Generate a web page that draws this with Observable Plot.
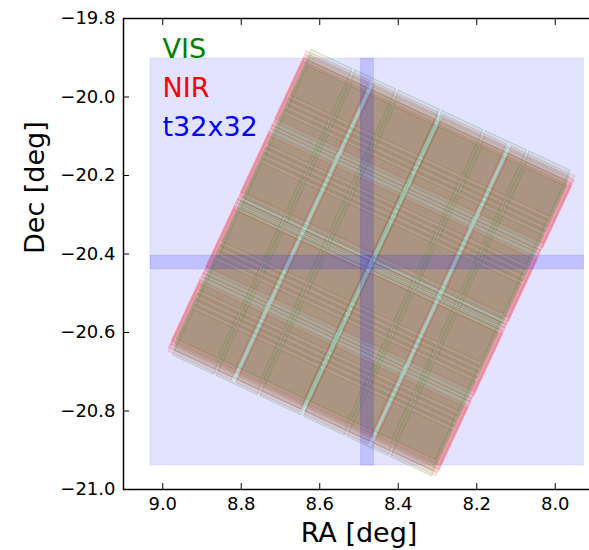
<!DOCTYPE html>
<html><head><meta charset="utf-8">
<script src="https://cdn.jsdelivr.net/npm/d3@7"></script>
<script src="https://cdn.jsdelivr.net/npm/@observablehq/plot@0.6"></script>
<style>
html,body{margin:0;padding:0;background:#fff;overflow:hidden;width:589px;height:550px}
#chart svg{display:block;max-width:none !important}
</style>
</head><body><div id="chart"></div>
<script>
// axes
const raDomain = [9.1, 7.9];
const decDomain = [-21.0, -19.8];
const xTicks = [9.0, 8.8, 8.6, 8.4, 8.2, 8.0];
const yTicks = [-21.0, -20.8, -20.6, -20.4, -20.2, -20.0, -19.8];
const xLabel = "RA [deg]";
const yLabel = "Dec [deg]";
// legend
const legendLabels = ["VIS", "NIR", "t32x32"];
const legendColors = ["green", "red", "blue"];
// t32x32 tile and its cross stripes
const tileRA = [9.031, 7.927];
const tileDec = [-20.939, -19.902];
const stripeRA = [8.495, 8.462];
const stripeDec = [-20.439, -20.404];
// footprint layout (focal-plane u,v in deg) and pointing
const footprintOrigin = [8.6216, -19.879];
const footprintAngle = 25;
const visColU = [0, 0.1225, 0.245, 0.3675, 0.49, 0.6125];
const visRowV = [0, 0.137, 0.274, 0.411, 0.548, 0.685];
const visSize = [0.115, 0.128];
const visDither = [[0, 0], [0.003, 0.014], [0.006, 0.028], [0.009, 0.042]];
const nirColU = [-0.01, 0.182, 0.374, 0.566];
const nirRowV = [0.008, 0.216, 0.424, 0.632];
const nirSize = [0.178, 0.19];
const nirDither = [[0, 0], [0.004, 0.01], [0.001, 0.02], [0.003, 0.028]];

const th = footprintAngle * Math.PI / 180, cs = Math.cos(th), sn = Math.sin(th);
function toSky(u, v) {
  return {ra: footprintOrigin[0] - u * cs + v * sn, dec: footprintOrigin[1] - u * sn - v * cs};
}
function detectors(cols, rows, size, dithers, tag) {
  const pts = []; let id = 0;
  for (const [du, dv] of dithers) for (const u0 of cols) for (const v0 of rows) {
    const u = u0 + du, v = v0 + dv;
    const corners = [[u, v], [u + size[0], v], [u + size[0], v + size[1]], [u, v + size[1]], [u, v]];
    for (const [a, b] of corners) pts.push({id: tag + id, ...toSky(a, b)});
    id++;
  }
  return pts;
}
const visPts = detectors(visColU, visRowV, visSize, visDither, "v");
const nirPts = detectors(nirColU, nirRowV, nirSize, nirDither, "n");
const tiles = [{ra1: tileRA[0], ra2: tileRA[1], dec1: tileDec[0], dec2: tileDec[1]}];
const stripes = [
  {ra1: stripeRA[0], ra2: stripeRA[1], dec1: tileDec[0], dec2: tileDec[1]},
  {ra1: tileRA[0], ra2: tileRA[1], dec1: stripeDec[0], dec2: stripeDec[1]}
];
const fmt = d3.format(".1f");
const legend = legendLabels.map((t, i) => ({t, c: legendColors[i], i}));

const plot = Plot.plot({
  width: 600, height: 550,
  marginLeft: 123, marginRight: 6, marginTop: 18, marginBottom: 61,
  style: {fontFamily: "DejaVu Sans", fontSize: "18px", background: "#fff", color: "black"},
  x: {domain: raDomain, label: null},
  y: {domain: decDomain, label: null},
  marks: [
    Plot.rect(tiles, {x1: "ra1", x2: "ra2", y1: "dec1", y2: "dec2", fill: "blue", fillOpacity: 0.11, stroke: "blue", strokeOpacity: 0.08}),
    Plot.line(nirPts, {x: "ra", y: "dec", z: "id", fill: "red", fillOpacity: 0.085, stroke: "red", strokeOpacity: 0.16, strokeWidth: 1, curve: "linear"}),
    Plot.line(visPts, {x: "ra", y: "dec", z: "id", fill: "green", fillOpacity: 0.072, stroke: "green", strokeOpacity: 0.2, strokeWidth: 1, curve: "linear"}),
    Plot.rect(stripes, {x1: "ra1", x2: "ra2", y1: "dec1", y2: "dec2", fill: "blue", fillOpacity: 0.15, stroke: "blue", strokeOpacity: 0.1}),
    ...legend.map(d => Plot.text([d], {text: "t", fill: "c", frameAnchor: "top-left", textAnchor: "start", lineAnchor: "bottom", dx: 39, dy: 39 + d.i * 39, fontSize: 27})),
    Plot.axisX({anchor: "bottom", ticks: xTicks, tickSize: -6, tickPadding: 14, tickFormat: fmt, fontSize: 18, label: null}),
    Plot.axisX({anchor: "top", ticks: xTicks, tickSize: -6, tickFormat: () => "", label: null}),
    Plot.axisY({anchor: "left", ticks: yTicks, tickSize: -6, tickPadding: 14, tickFormat: fmt, fontSize: 18, label: null}),
    Plot.axisY({anchor: "right", ticks: yTicks, tickSize: -6, tickFormat: () => "", label: null}),
    Plot.frame({stroke: "black", strokeWidth: 1.5}),
    Plot.text([xLabel], {frameAnchor: "bottom", dy: 44, fontSize: 27, lineAnchor: "middle"}),
    Plot.text([yLabel], {frameAnchor: "left", dx: -88, rotate: -90, fontSize: 27, lineAnchor: "middle"})
  ]
});
document.getElementById("chart").appendChild(plot);
</script>
</body></html>
